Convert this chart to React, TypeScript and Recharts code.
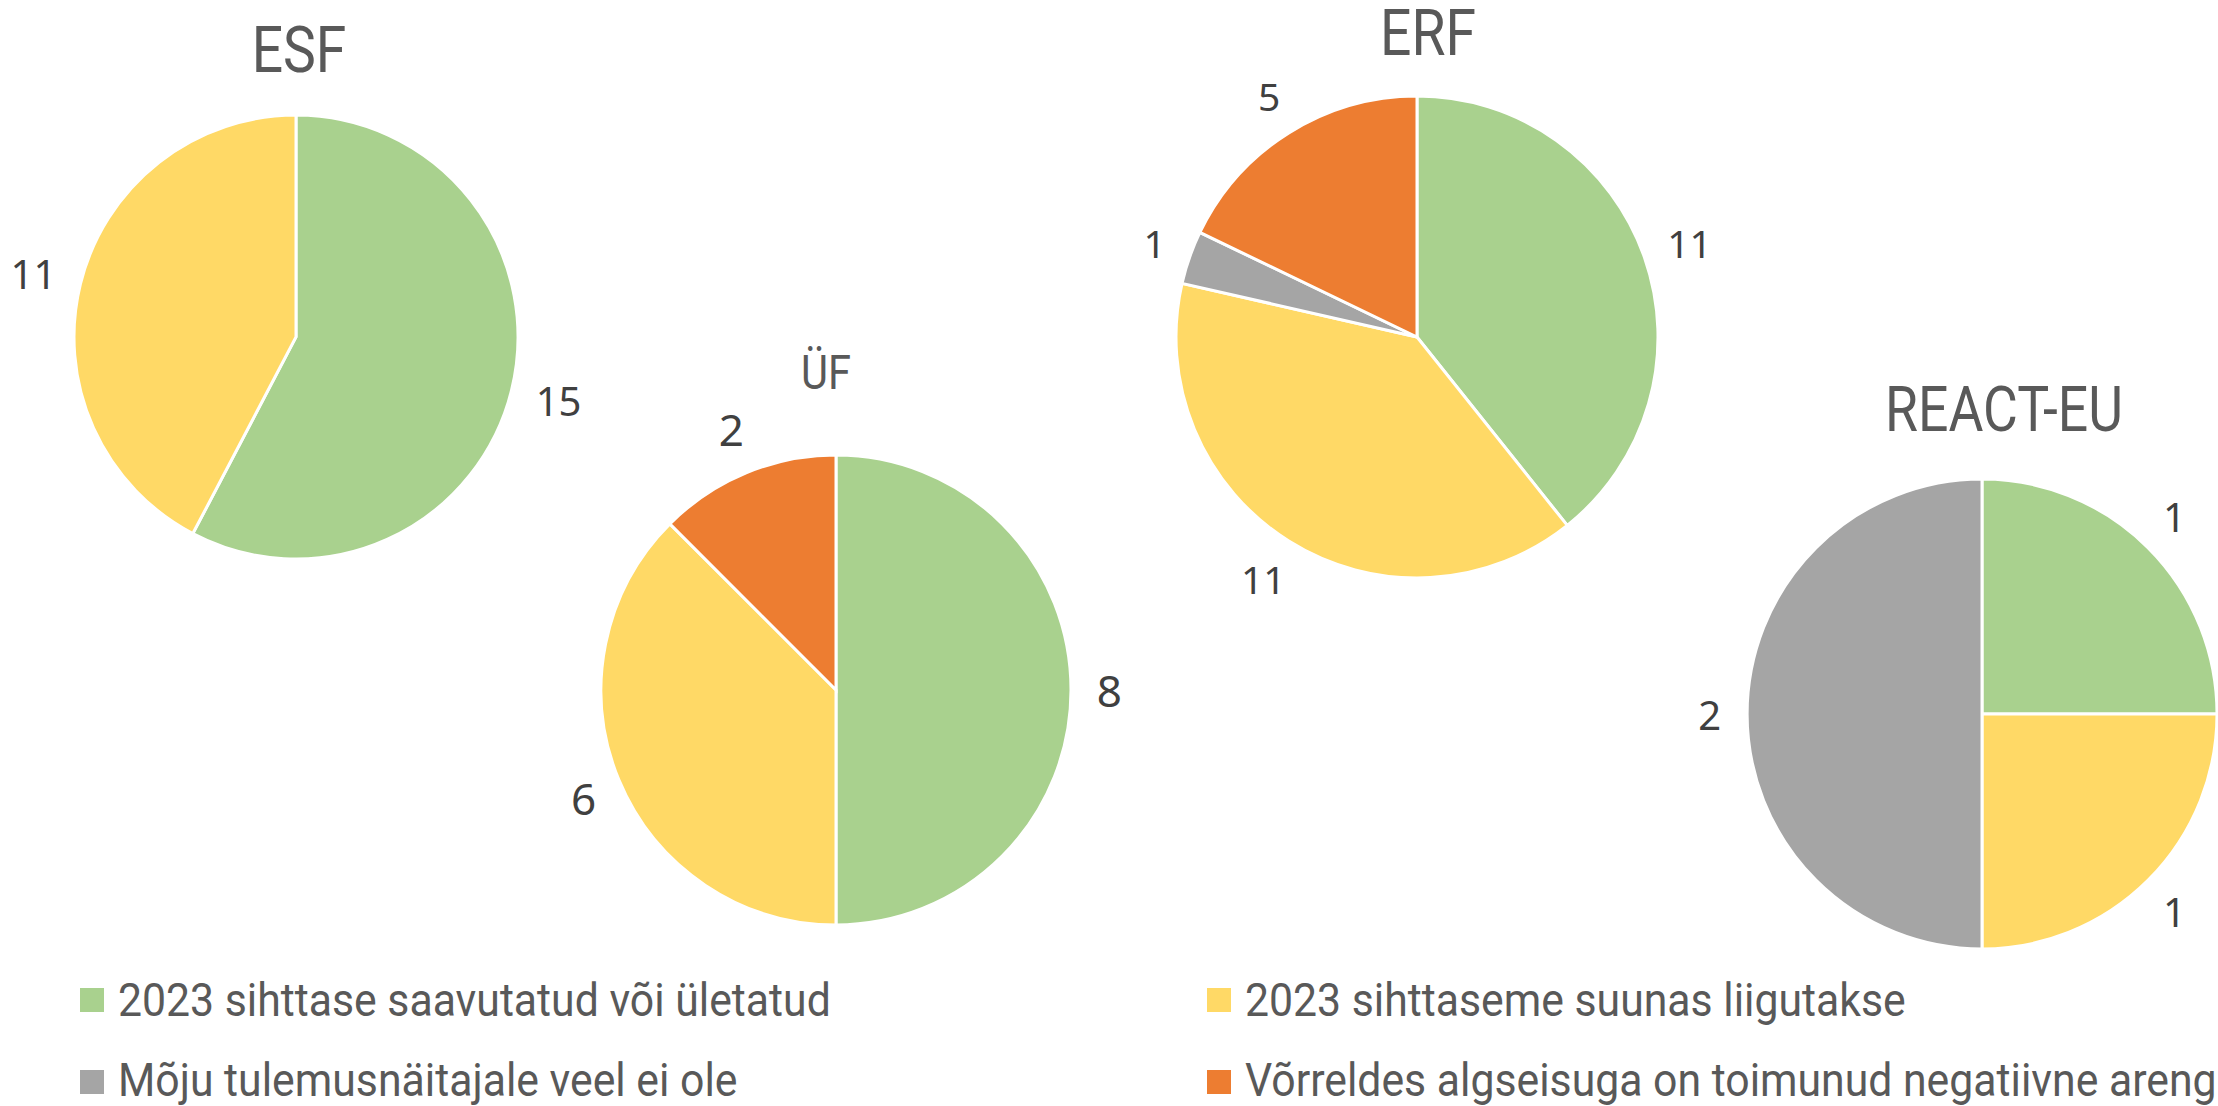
import React from 'react';
import { PieChart, Pie, Cell } from 'recharts';

// categories & colours (legend order: row-major, 2 columns)
const categories = [
  '2023 sihttase saavutatud või ületatud',
  '2023 sihttaseme suunas liigutakse',
  'Mõju tulemusnäitajale veel ei ole',
  'Võrreldes algseisuga on toimunud negatiivne areng',
];
const colors = ['#A9D18E', '#FFD966', '#A5A5A5', '#ED7D31'];

// counts per fund, same order as categories
const fundNames = ['ESF', 'ÜF', 'ERF', 'REACT-EU'];
const esfValues = [15, 11, 0, 0];
const ufValues = [8, 6, 0, 2];
const erfValues = [11, 11, 1, 5];
const reactValues = [1, 1, 2, 0];

const W = 2218;
const H = 1106;
const TEXT = '#595959';

// where each pie and its title sit
const layout = [
  { values: esfValues, cx: 296, cy: 337, r: 222, tx: 299, ty: 72, fs: 65, ls: 40 },
  { values: ufValues, cx: 836, cy: 690, r: 235, tx: 826, ty: 389, fs: 49, ls: 44 },
  { values: erfValues, cx: 1417, cy: 337, r: 241, tx: 1428, ty: 55, fs: 65, ls: 39 },
  { values: reactValues, cx: 1982, cy: 714, r: 235, tx: 2004, ty: 431, fs: 63, ls: 40 },
];

const toData = (values: number[]) =>
  values
    .map((v, i) => ({ name: categories[i], value: v, color: colors[i] }))
    .filter(d => d.value > 0);

const RAD = Math.PI / 180;

// label box sits just outside the rim, pushed out by half its size along the slice direction
const makeLabel = (size: number) => (props: any) => {
  const { cx, cy, midAngle, outerRadius, value } = props;
  const dx = Math.cos(-midAngle * RAD);
  const dy = Math.sin(-midAngle * RAD);
  const halfW = String(value).length * 0.28 * size + 6;
  const halfH = 0.62 * size;
  const r = outerRadius + 20;
  const x = cx + r * dx + dx * halfW;
  const y = cy + r * dy + dy * halfH;
  return (
    <text
      x={x}
      y={y}
      fill="#404040"
      fontSize={size}
      fontFamily="'Noto Sans', sans-serif"
      textAnchor="middle"
      dominantBaseline="central"
    >
      {value}
    </text>
  );
};

const legendPos = [
  { sx: 80, tx: 118, cy: 1000, by: 1016 },
  { sx: 1207, tx: 1245, cy: 1000, by: 1016 },
  { sx: 80, tx: 118, cy: 1082, by: 1096 },
  { sx: 1207, tx: 1245, cy: 1082, by: 1096 },
];

export default function App() {
  return (
    <div style={{ position: 'absolute', left: 0, top: 0, width: W, height: H, background: '#fff' }}>
      <PieChart width={W} height={H} margin={{ top: 0, right: 0, bottom: 0, left: 0 }}>
        {layout.map((p, k) => (
          <Pie
            key={fundNames[k]}
            data={toData(p.values)}
            dataKey="value"
            nameKey="name"
            cx={p.cx}
            cy={p.cy}
            outerRadius={p.r}
            startAngle={90}
            endAngle={-270}
            stroke="#ffffff"
            strokeWidth={3}
            label={makeLabel(p.ls)}
            labelLine={false}
            isAnimationActive={false}
          >
            {toData(p.values).map(d => (
              <Cell key={d.name} fill={d.color} />
            ))}
          </Pie>
        ))}
      </PieChart>
      <svg
        width={W}
        height={H}
        style={{ position: 'absolute', left: 0, top: 0, pointerEvents: 'none' }}
        fontFamily="Roboto, sans-serif"
      >
        {layout.map((p, k) => (
          <text
            key={fundNames[k]}
            transform={`translate(${p.tx},${p.ty}) scale(0.85,1)`}
            textAnchor="middle"
            fontSize={p.fs}
            fill={TEXT}
          >
            {fundNames[k]}
          </text>
        ))}
        {categories.map((c, i) => (
          <g key={c}>
            <rect x={legendPos[i].sx} y={legendPos[i].cy - 12} width={24} height={24} fill={colors[i]} />
            <text
              transform={`translate(${legendPos[i].tx},${legendPos[i].by}) scale(0.91,1)`}
              fontSize={47}
              fill={TEXT}
            >
              {c}
            </text>
          </g>
        ))}
      </svg>
    </div>
  );
}
